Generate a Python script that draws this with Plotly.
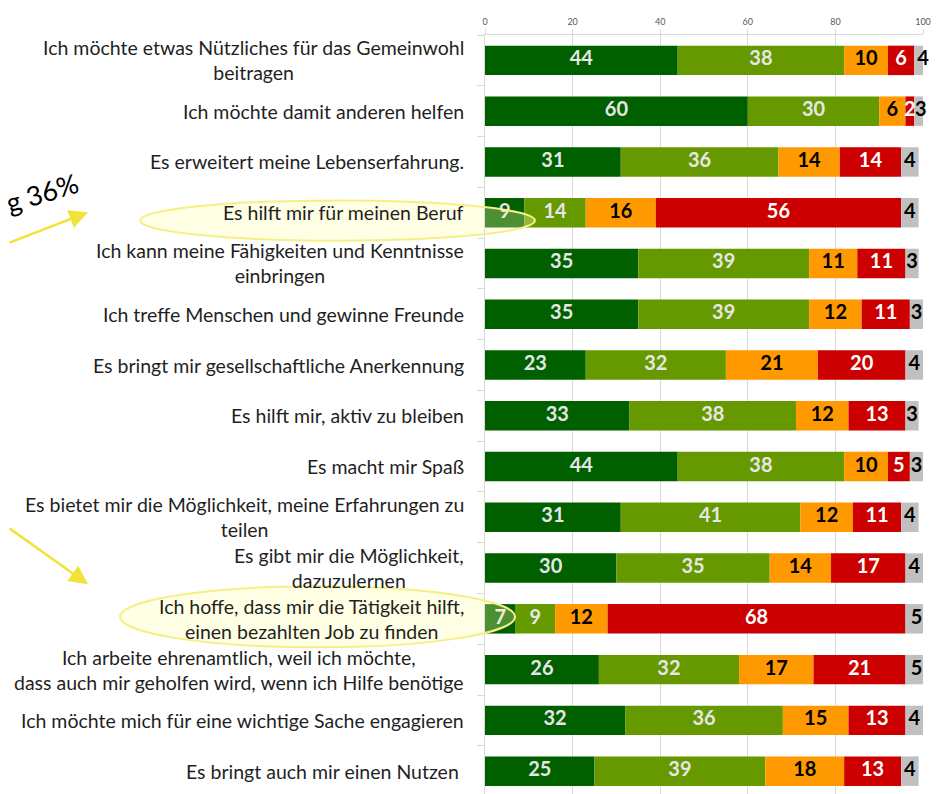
import numpy as np
import plotly.graph_objects as go

categories = [
    "Ich möchte etwas Nützliches für das Gemeinwohl<br>beitragen",
    "Ich möchte damit anderen helfen",
    "Es erweitert meine Lebenserfahrung.",
    "Es hilft mir für meinen Beruf",
    "Ich kann meine Fähigkeiten und Kenntnisse<br>einbringen",
    "Ich treffe Menschen und gewinne Freunde",
    "Es bringt mir gesellschaftliche Anerkennung",
    "Es hilft mir, aktiv zu bleiben",
    "Es macht mir Spaß",
    "Es bietet mir die Möglichkeit, meine Erfahrungen zu<br>teilen",
    "Es gibt mir die Möglichkeit,<br>dazuzulernen",
    "Ich hoffe, dass mir die Tätigkeit hilft,<br>einen bezahlten Job zu finden",
    "Ich arbeite ehrenamtlich, weil ich möchte,<br>dass auch mir geholfen wird, wenn ich Hilfe benötige",
    "Ich möchte mich für eine wichtige Sache engagieren",
    "Es bringt auch mir einen Nutzen ",
]

series_names = ["trifft voll zu", "trifft eher zu", "trifft eher nicht zu", "trifft gar nicht zu", "keine Angabe"]
voll_zu = [44, 60, 31, 9, 35, 35, 23, 33, 44, 31, 30, 7, 26, 32, 25]
eher_zu = [38, 30, 36, 14, 39, 39, 32, 38, 38, 41, 35, 9, 32, 36, 39]
eher_nicht = [10, 6, 14, 16, 11, 12, 21, 12, 10, 12, 14, 12, 17, 15, 18]
gar_nicht = [6, 2, 14, 56, 11, 11, 20, 13, 5, 11, 17, 68, 21, 13, 13]
keine_angabe = [4, 3, 4, 4, 3, 3, 4, 3, 3, 4, 4, 5, 5, 4, 4]
x_ticks = [0, 20, 40, 60, 80, 100]

series = [voll_zu, eher_zu, eher_nicht, gar_nicht, keine_angabe]
colors = ["#006000", "#669900", "#FF9900", "#CC0000", "#C0C0C0"]
text_colors = ["#E6E6E6", "#E6E6E6", "#000000", "#FFFFFF", "#000000"]

OFF = 8  # page offset of the figure in the screenshot
W, H = 939, 794
ML, MR, MT, MB = 485 - OFF, 939 - (923 - OFF), 23 - OFF, OFF
PW, PH = W - ML - MR, H - MT - MB

def px(x):
    return (x - OFF - ML) / PW

def py(y):
    return (H - MB - (y - OFF)) / PH

fig = go.Figure()
base = np.zeros(len(categories))
for name, vals, col, tcol in zip(series_names, series, colors, text_colors):
    v = np.array(vals, dtype=float)
    fig.add_trace(go.Bar(
        y=categories, x=v, base=base, orientation="h", name=name,
        marker=dict(color=col, line=dict(width=0)), cliponaxis=True,
        hoverinfo="skip",
    ))
    fig.add_trace(go.Scatter(
        y=categories, x=base + v / 2, mode="text", text=[str(int(a)) for a in v],
        textposition="middle center", cliponaxis=False, showlegend=False,
        textfont=dict(family="Lato", size=20, color=tcol, weight="bold"),
        hoverinfo="skip",
    ))
    base = base + v

annotations = []
for c in categories:
    annotations.append(dict(
        x=0, xref="paper", y=c, yref="y", text=c.rstrip(), xanchor="right",
        yanchor="middle", align="center", xshift=-19 - (5 if c.endswith(" ") else 0),
        showarrow=False, font=dict(family="Lato", size=19.5, color="#1F1F1F"),
    ))

arrow_col = "#F2E23A"
annotations += [
    dict(x=px(88), y=py(203), xref="paper", yref="paper", ax=-100, ay=31,
         showarrow=True, arrowhead=2, arrowsize=1.5, arrowwidth=2.5,
         arrowcolor=arrow_col, text=""),
    dict(x=px(88), y=py(581), xref="paper", yref="paper", ax=-96, ay=-57,
         showarrow=True, arrowhead=2, arrowsize=1.5, arrowwidth=2.5,
         arrowcolor=arrow_col, text=""),
    dict(x=px(42), y=py(183), xref="paper", yref="paper", text="g 36%",
         textangle=-17, showarrow=False, xanchor="center", yanchor="middle",
         font=dict(family="Lato", size=27, color="#000000")),
    dict(x=px(5), y=py(500), xref="paper", yref="paper", text="6",
         showarrow=False, xanchor="right", yanchor="middle",
         font=dict(family="Lato", size=25, color="#000000")),
]

shapes = [
    dict(type="circle", xref="paper", yref="paper", x0=px(140), x1=px(535),
         y0=py(232), y1=py(191), layer="above",
         line=dict(color="#F5EF85", width=2), fillcolor="rgba(255,255,170,0.3)"),
    dict(type="circle", xref="paper", yref="paper", x0=px(120), x1=px(515),
         y0=py(645), y1=py(583), layer="above",
         line=dict(color="#F5EF85", width=2), fillcolor="rgba(255,255,170,0.3)"),
]

fig.update_layout(
    width=W, height=H, barmode="overlay", bargap=0.42, showlegend=False,
    margin=dict(l=ML, r=MR, t=MT, b=MB, pad=0),
    plot_bgcolor="white", paper_bgcolor="white",
    annotations=annotations, shapes=shapes,
    xaxis=dict(side="top", range=[0, 100], tickvals=x_ticks, showgrid=True,
               gridcolor="#D9D9D9", gridwidth=1, zeroline=False, showline=True,
               linecolor="#D9D9D9", ticks="outside", ticklen=5, tickcolor="#D9D9D9",
               tickfont=dict(family="Lato", size=9, color="#595959")),
    yaxis=dict(type="category", categoryorder="array", categoryarray=categories,
               range=[14.45, -0.5], showticklabels=False, showgrid=False,
               showline=True, linecolor="#D9D9D9", ticks="outside", ticklen=7,
               tickcolor="#D9D9D9", tickson="boundaries", zeroline=False),
)

fig.write_html("out.html")
